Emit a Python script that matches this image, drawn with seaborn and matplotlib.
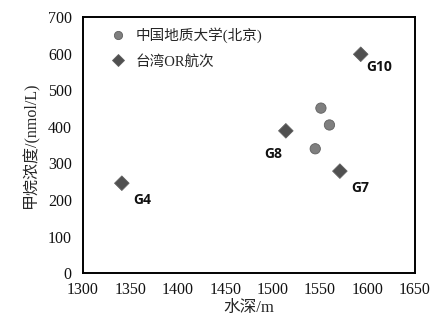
import matplotlib
matplotlib.use("Agg")
import matplotlib.pyplot as plt
import seaborn as sns
import pandas as pd

sns.set_theme(style="white")
plt.rcParams["font.family"] = ["Liberation Serif", "Noto Sans CJK SC", "DejaVu Sans"]

# Station data
cugb_depth = [1551, 1560, 1545]
cugb_ch4 = [451, 405, 340]

or_stations = ["G4", "G8", "G7", "G10"]
or_depth = [1341, 1514, 1571, 1593]
or_ch4 = [246, 389, 279, 598]

series_names = ["中国地质大学(北京)", "台湾OR航次"]
x_ticks = [1300, 1350, 1400, 1450, 1500, 1550, 1600, 1650]
y_ticks = [0, 100, 200, 300, 400, 500, 600, 700]

df = pd.DataFrame({
    "depth": cugb_depth + or_depth,
    "ch4": cugb_ch4 + or_ch4,
    "source": [series_names[0]] * len(cugb_depth) + [series_names[1]] * len(or_depth),
})

fig = plt.figure(figsize=(4.46, 3.25), dpi=100)
ax = fig.add_axes([0.186, 0.159, 0.744, 0.789])

sns.scatterplot(
    data=df, x="depth", y="ch4", hue="source", style="source",
    hue_order=series_names, style_order=series_names,
    palette={series_names[0]: "#7f7f7f", series_names[1]: "#505050"},
    markers={series_names[0]: "o", series_names[1]: "D"},
    s=55, edgecolor="#606060", linewidth=0.6, ax=ax, zorder=3,
)

# station labels
offsets = {"G4": (15, -12), "G8": (-9, -17), "G7": (15, -12), "G10": (13, -9)}
for name, x, y in zip(or_stations, or_depth, or_ch4):
    ax.annotate(name, (x, y), xytext=offsets[name], textcoords="offset points",
                ha="center", va="center", fontsize=10, fontweight="bold",
                family="Open Sans", color="#111111")

ax.set_xlim(1300, 1650)
ax.set_ylim(0, 700)
ax.set_xticks(x_ticks)
ax.set_yticks(y_ticks)
ax.tick_params(axis="both", direction="in", length=4, width=1.2, color="black",
               labelsize=11.5, labelcolor="#111111")
ax.tick_params(axis="y", pad=8)
ax.tick_params(axis="x", pad=6)
for sp in ax.spines.values():
    sp.set_color("black")
    sp.set_linewidth(1.4)

ax.set_xlabel("水深/m", fontsize=12, labelpad=2)
ax.set_ylabel("甲烷浓度/(nmol/L)", fontsize=11.5, labelpad=6)

leg = ax.legend(loc="upper left", frameon=False, fontsize=10.5,
                bbox_to_anchor=(0.03, 1.0), handletextpad=0.2,
                labelspacing=0.8, markerscale=0.8, borderaxespad=0.3)

fig.savefig("out.png", dpi=100)
